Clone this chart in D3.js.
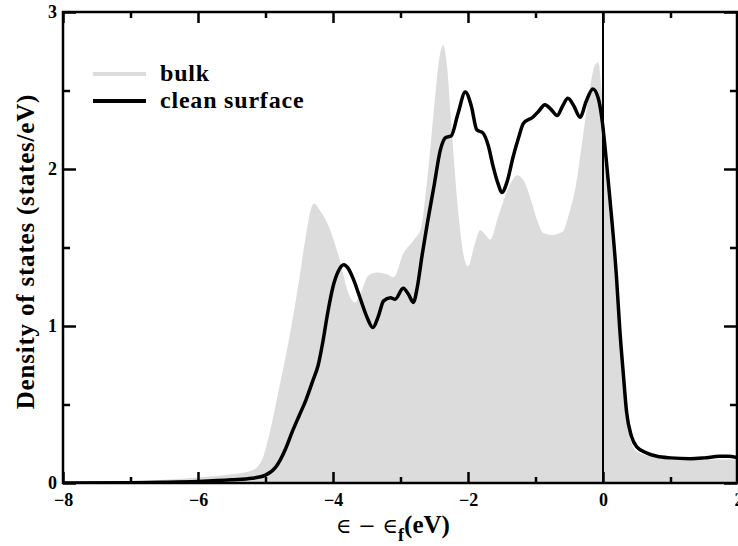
<!DOCTYPE html>
<html>
<head>
<meta charset="utf-8">
<script src="https://cdn.jsdelivr.net/npm/d3@7"></script>
<style>
  body { margin: 0; background: #fff; }
  svg { display: block; font-family: "Liberation Serif", "Times New Roman", Times, serif; font-weight: bold; }
</style>
</head>
<body>
<svg id="chart" width="738" height="546"></svg>
<script>
// bulk DOS (grey fill)
const bulkE = [-8, -7.5, -7, -6.5, -6, -5.5, -5.2, -5.05, -4.95, -4.8, -4.65, -4.5, -4.4, -4.33, -4.28, -4.2, -4.04, -3.9, -3.78, -3.68, -3.58, -3.48, -3.35, -3.2, -3.1, -2.96, -2.8, -2.7, -2.6, -2.5, -2.42, -2.37, -2.31, -2.25, -2.15, -2.05, -2.0, -1.9, -1.82, -1.74, -1.67, -1.55, -1.4, -1.27, -1.18, -1.08, -0.98, -0.88, -0.75, -0.6, -0.5, -0.4, -0.3, -0.2, -0.12, -0.07, -0.02, 0.05, 0.1, 0.2, 0.25, 0.35, 0.5, 0.8, 1.0, 1.5, 2.0];
const bulkDos = [0, 0.003, 0.008, 0.02, 0.035, 0.055, 0.08, 0.15, 0.3, 0.6, 0.92, 1.3, 1.58, 1.74, 1.78, 1.74, 1.61, 1.42, 1.22, 1.15, 1.22, 1.32, 1.34, 1.33, 1.31, 1.46, 1.55, 1.62, 1.95, 2.4, 2.72, 2.79, 2.65, 2.3, 1.75, 1.42, 1.38, 1.52, 1.61, 1.58, 1.55, 1.7, 1.88, 1.96, 1.93, 1.82, 1.68, 1.59, 1.58, 1.6, 1.72, 1.9, 2.2, 2.5, 2.66, 2.68, 2.5, 2.05, 1.7, 1.2, 0.9, 0.4, 0.2, 0.16, 0.15, 0.15, 0.15];

// clean surface DOS (black line)
const surfE = [-8, -7, -6.5, -6, -5.5, -5.2, -5.0, -4.85, -4.7, -4.6, -4.5, -4.4, -4.3, -4.22, -4.15, -4.08, -4.0, -3.92, -3.84, -3.78, -3.7, -3.6, -3.5, -3.41, -3.33, -3.25, -3.15, -3.08, -2.96, -2.88, -2.81, -2.75, -2.68, -2.6, -2.5, -2.41, -2.33, -2.25, -2.15, -2.04, -1.95, -1.87, -1.78, -1.7, -1.63, -1.55, -1.5, -1.42, -1.33, -1.25, -1.18, -1.04, -0.95, -0.86, -0.77, -0.68, -0.6, -0.52, -0.43, -0.34, -0.25, -0.15, -0.07, -0.01, 0.05, 0.1, 0.2, 0.25, 0.3, 0.35, 0.42, 0.5, 0.65, 0.8, 1.0, 1.29, 1.5, 1.73, 1.85, 2.0];
const surfDos = [0, 0.002, 0.005, 0.01, 0.02, 0.03, 0.05, 0.1, 0.22, 0.33, 0.43, 0.53, 0.65, 0.75, 0.9, 1.08, 1.25, 1.35, 1.39, 1.37, 1.3, 1.18, 1.06, 0.99, 1.06, 1.16, 1.18, 1.17, 1.24, 1.2, 1.15, 1.25, 1.45, 1.66, 1.9, 2.12, 2.2, 2.21, 2.35, 2.49, 2.4, 2.25, 2.23, 2.15, 2.02, 1.9, 1.85, 1.92, 2.08, 2.2, 2.29, 2.33, 2.37, 2.41, 2.38, 2.34, 2.4, 2.45, 2.4, 2.33, 2.43, 2.51, 2.45, 2.3, 2.05, 1.82, 1.31, 0.97, 0.7, 0.45, 0.3, 0.23, 0.19, 0.17, 0.16, 0.155, 0.16, 0.17, 0.17, 0.16];

const xMajor = [-8, -6, -4, -2, 0, 2];
const xMinor = [-7, -5, -3, -1, 1];
const yMajor = [0, 1, 2, 3];
const yMinor = [0.5, 1.5, 2.5];
const seriesNames = ['bulk', 'clean surface'];

const serif = '"Liberation Serif", "Times New Roman", Times, serif';
const margin = {top: 12, right: 1, bottom: 63, left: 63};
const W = 738, H = 546;
const w = W - margin.left - margin.right;
const h = H - margin.top - margin.bottom;

const svg = d3.select('#chart');
const g = svg.append('g').attr('transform', `translate(${margin.left},${margin.top})`);

const x = d3.scaleLinear().domain([-8, 2]).range([0, w + margin.right]);
const y = d3.scaleLinear().domain([0, 3]).range([h, 0]);

g.append('clipPath').attr('id', 'clip')
  .append('rect').attr('width', w).attr('height', h);

const bulk = bulkE.map((e, i) => ({e: e, v: bulkDos[i]}));
const surf = surfE.map((e, i) => ({e: e, v: surfDos[i]}));

const plot = g.append('g').attr('clip-path', 'url(#clip)');

plot.append('path')
  .datum(bulk)
  .attr('fill', '#dcdcdc')
  .attr('d', d3.area().x(d => x(d.e)).y0(y(0)).y1(d => y(d.v)).curve(d3.curveMonotoneX));

// fermi level
plot.append('line')
  .attr('x1', x(0)).attr('x2', x(0))
  .attr('y1', 0).attr('y2', h)
  .attr('stroke', '#000').attr('stroke-width', 2);

plot.append('path')
  .datum(surf)
  .attr('fill', 'none')
  .attr('stroke', '#000')
  .attr('stroke-width', 3.5)
  .attr('stroke-linejoin', 'round')
  .attr('d', d3.line().x(d => x(d.e)).y(d => y(d.v)).curve(d3.curveMonotoneX));

// axes, ticks pointing inward
function styleAxis(sel) {
  sel.select('.domain').remove();
  sel.selectAll('line').attr('stroke', '#000').attr('stroke-width', 2.5);
  sel.selectAll('text').attr('font-size', 18).attr('font-weight', 'bold')
    .attr('font-family', serif).attr('fill', '#000');
}

const xAxis = g.append('g').attr('transform', `translate(0,${h})`)
  .call(d3.axisBottom(x).tickValues(xMajor).tickFormat(d3.format('d')).tickSizeInner(-11).tickSizeOuter(0).tickPadding(10))
  .call(styleAxis);
// last label sits on the window edge, like the reference
xAxis.selectAll('.tick').filter(d => d === 2).select('text').attr('text-anchor', 'start').attr('dx', -4);
g.append('g').attr('transform', `translate(0,${h})`)
  .call(d3.axisBottom(x).tickValues(xMinor).tickFormat('').tickSizeInner(-6).tickSizeOuter(0))
  .call(styleAxis);
g.append('g')
  .call(d3.axisTop(x).tickValues(xMajor).tickFormat('').tickSizeInner(-11).tickSizeOuter(0))
  .call(styleAxis);
g.append('g')
  .call(d3.axisTop(x).tickValues(xMinor).tickFormat('').tickSizeInner(-6).tickSizeOuter(0))
  .call(styleAxis);

g.append('g')
  .call(d3.axisLeft(y).tickValues(yMajor).tickFormat(d3.format('d')).tickSizeInner(-13).tickSizeOuter(0).tickPadding(6))
  .call(styleAxis);
g.append('g')
  .call(d3.axisLeft(y).tickValues(yMinor).tickFormat('').tickSizeInner(-7).tickSizeOuter(0))
  .call(styleAxis);
g.append('g').attr('transform', `translate(${w},0)`)
  .call(d3.axisRight(y).tickValues(yMajor).tickFormat('').tickSizeInner(-13).tickSizeOuter(0))
  .call(styleAxis);
g.append('g').attr('transform', `translate(${w},0)`)
  .call(d3.axisRight(y).tickValues(yMinor).tickFormat('').tickSizeInner(-7).tickSizeOuter(0))
  .call(styleAxis);

g.append('rect')
  .attr('width', w).attr('height', h)
  .attr('fill', 'none').attr('stroke', '#000').attr('stroke-width', 2.5);

// legend
const legend = g.append('g').attr('transform', 'translate(30,62)');
const legendColors = ['#dcdcdc', '#000'];
seriesNames.forEach((name, i) => {
  const row = legend.append('g').attr('transform', `translate(0,${i * 27})`);
  row.append('line').attr('x1', 0).attr('x2', 53).attr('y1', 0).attr('y2', 0)
    .attr('stroke', legendColors[i]).attr('stroke-width', 4);
  row.append('text').attr('x', 67).attr('y', 7)
    .attr('font-size', 24).attr('letter-spacing', 0.8).attr('font-weight', 'bold').attr('font-family', serif).text(name);
});

// axis titles
const xt = svg.append('text')
  .attr('x', margin.left + w / 2 - 7).attr('y', 533)
  .attr('text-anchor', 'middle').attr('font-size', 25).attr('font-family', serif);
xt.append('tspan').attr('font-weight', 'normal').attr('font-family', '"DejaVu Serif", serif').attr('font-size', 21).text('∈ − ∈');
xt.append('tspan').attr('font-size', 18).attr('dy', 8).text('f');
xt.append('tspan').attr('dy', -8).text('(eV)');

svg.append('text')
  .attr('transform', `translate(34,${margin.top + h / 2 + 4}) rotate(-90)`)
  .attr('text-anchor', 'middle').attr('font-size', 25).attr('letter-spacing', 0.8).attr('font-family', serif)
  .text('Density of states (states/eV)');
</script>
</body>
</html>
